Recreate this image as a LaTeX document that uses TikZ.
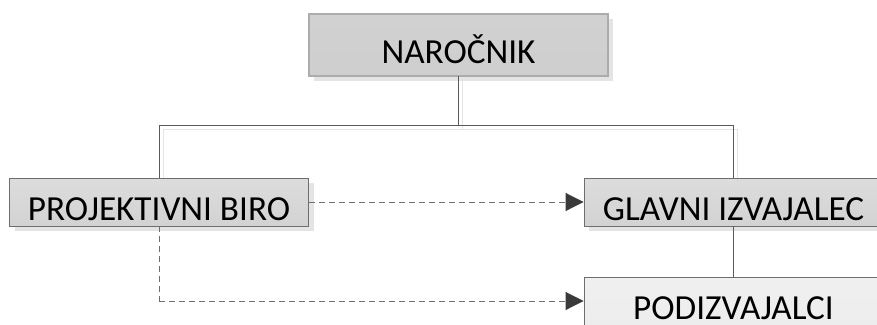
\documentclass[tikz,border=0pt]{standalone}
\usepackage{fontspec}
\setmainfont{Carlito}
\usetikzlibrary{arrows.meta,shadows}
\definecolor{edgegray}{HTML}{6E6E6E}
\definecolor{linegray}{HTML}{5A5A5A}
\definecolor{shadegray}{HTML}{E4E4E4}
\definecolor{tipgray}{HTML}{3A3A3A}
\begin{document}
\begin{tikzpicture}[x=1pt,y=-1pt,
  unit/.style={rectangle, inner sep=0pt, minimum width=299pt,
    minimum height=48pt, text height=42pt, text depth=6pt,
    font=\fontsize{35.2}{40}\selectfont,
    draw=edgegray, line width=0.9pt,
    top color=gray!27, bottom color=gray!35,
    drop shadow={shadow xshift=5pt, shadow yshift=-5pt, fill=shadegray, opacity=1}},
  topunit/.style={unit, minimum height=62pt, text height=49pt, text depth=13pt,
    draw=black!68, line width=0.7pt, double=gray!65, double distance=1.4pt,
    top color=gray!36, bottom color=gray!38},
  lowunit/.style={unit, top color=gray!12, bottom color=gray!14},
  tree/.style={draw=linegray, line width=1pt},
  treeshade/.style={draw=shadegray, line width=1pt},
  flow/.style={draw=edgegray, line width=0.9pt, dash pattern=on 6pt off 4pt,
    -{Triangle[length=18pt, width=18pt, fill=tipgray, color=tipgray]}},
  flowplain/.style={draw=edgegray, line width=0.9pt, dash pattern=on 6pt off 4pt}]
\useasboundingbox (0,0) rectangle (877,324);

% shadow lines under the tree connectors
\begin{scope}[transform canvas={xshift=4pt,yshift=-4pt}]
  \draw[treeshade] (458.5,76) -- (458.5,125) -| (159,178);
  \draw[treeshade] (458.5,125) -| (733,178);
\end{scope}

% units
\node[topunit] (nar) at (458.5,45) {NAROČNIK};
\node[unit] (proj) at (159,202) {PROJEKTIVNI BIRO};
\node[unit] (glav) at (733.5,202) {GLAVNI IZVAJALEC};
\node[lowunit] (pod) at (733.5,301) {PODIZVAJALCI};

% reporting lines
\coordinate (split) at (458.5,125);
\draw[tree] (nar.south) -- (split) -| (proj.north);
\draw[tree] (split) -| (glav.north);
\draw[tree] (glav.south) -- (pod.north);

% coordination links
\draw[flow] (proj.east) -- (glav.west);
\coordinate (bend) at (proj.south |- pod.west);
\draw[flowplain] (proj.south) -- (bend);
\draw[flow] (bend) -- (pod.west);
\end{tikzpicture}
\end{document}
